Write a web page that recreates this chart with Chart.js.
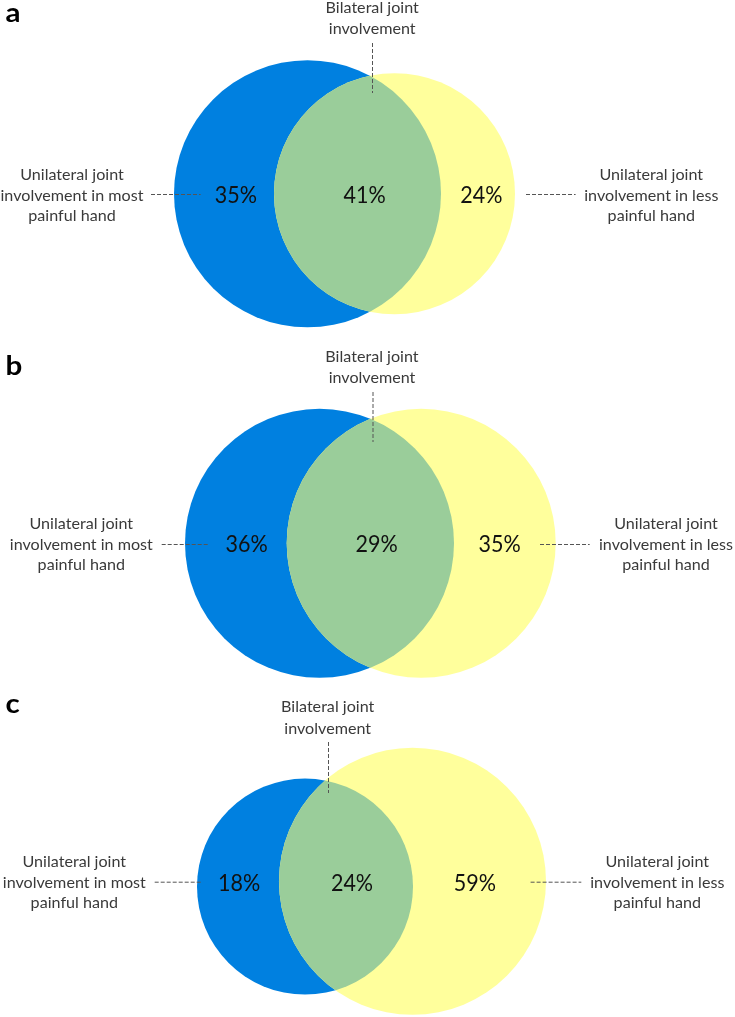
<!DOCTYPE html>
<html><head><meta charset="utf-8">
<script src="https://cdn.jsdelivr.net/npm/chart.js@4.4.0/dist/chart.umd.min.js"></script>
<style>html,body{margin:0;padding:0;background:#fff}#wrap{position:relative;width:735px;height:1017px}</style>
</head><body><div id="wrap"><canvas id="c" width="735" height="1017"></canvas></div>
<script>
// ---- data ----
const panels = ['a', 'b', 'c'];
const mostPainful = [35, 36, 18];   // unilateral, most painful hand (%)
const bilateral   = [41, 29, 24];   // bilateral (%)
const lessPainful = [24, 35, 59];   // unilateral, less painful hand (%)
// Venn circles (data units): centre and radius of each set
const mostX = [3.075, 3.195, 3.050];
const mostY = [1.938, 5.433, 8.866];
const mostR = [1.335, 1.345, 1.080];
const lessX = [3.945, 4.212, 4.125];
const lessY = [1.937, 5.433, 8.813];
const lessR = [1.205, 1.345, 1.335];
const topLabel   = ['Bilateral joint', 'involvement'];
const leftLabel  = ['Unilateral joint', 'involvement in most', 'painful hand'];
const rightLabel = ['Unilateral joint', 'involvement in less', 'painful hand'];

// ---- layout (pixels, relative to each panel top) ----
const panelTop = [0, 340, 680];
const layout = [
  {letterY: 21.7, topX: 372.2, topY: 13, vX: 372, vY0: 43, vY1: 93, leftX: 72, labY: 180, lDash: [151, 200.6], rDash: [526, 575.6], dashY: 194, pctY: 202.7, pctX: [235.8, 364.7, 481.4], rightX: 651.3},
  {letterY: 35, topX: 372, topY: 21.7, vX: 372.5, vY0: 52, vY1: 102, leftX: 81.3, labY: 189, lDash: [161.7, 208.6], rDash: [540, 589.7], dashY: 204, pctY: 212.3, pctX: [246.6, 376.6, 499.7], rightX: 666},
  {letterY: 32.7, topX: 327.7, topY: 32.3, vX: 328, vY0: 62, vY1: 113, leftX: 74.3, labY: 187.3, lDash: [154.7, 201.6], rDash: [530.6, 581.3], dashY: 201.7, pctY: 210.7, pctX: [239.1, 352, 474.9], rightX: 657.3}
];

const BLUE = '#0080E0', YELLOW = '#FFFF9C', GREEN = '#9ACD9A';

function sText(ctx, str, cx, base, font, color, sx, align) {
  ctx.save();
  ctx.font = font; ctx.fillStyle = color;
  ctx.textAlign = align || 'center'; ctx.textBaseline = 'alphabetic';
  ctx.translate(cx, base); ctx.scale(sx, 1);
  ctx.fillText(str, 0, 0);
  ctx.restore();
}
function fitScale(ctx, font, str, target) {
  ctx.save(); ctx.font = font; const w = ctx.measureText(str).width; ctx.restore();
  return target / w;
}
function dash(ctx, x0, y0, x1, y1) {
  ctx.save();
  ctx.strokeStyle = '#555'; ctx.lineWidth = 1; ctx.setLineDash([4, 2]);
  ctx.beginPath(); ctx.moveTo(x0, y0); ctx.lineTo(x1, y1); ctx.stroke();
  ctx.restore();
}

const vennPlugin = {
  id: 'venn',
  afterDatasetsDraw(chart) {
    const ctx = chart.ctx, xs = chart.scales.x, ys = chart.scales.y;
    const mMost = chart.getDatasetMeta(0), mLess = chart.getDatasetMeta(1);
    const ell = (el, r) => ({
      cx: el.x, cy: el.y,
      rx: Math.abs(xs.getPixelForValue(r) - xs.getPixelForValue(0)),
      ry: Math.abs(ys.getPixelForValue(r) - ys.getPixelForValue(0))
    });
    const path = e => { ctx.beginPath(); ctx.ellipse(e.cx, e.cy, e.rx, e.ry, 0, 0, Math.PI * 2); };
    for (let i = 0; i < panels.length; i++) {
      const a = ell(mMost.data[i], mostR[i]);
      const b = ell(mLess.data[i], lessR[i]);
      ctx.save();
      path(a); ctx.fillStyle = BLUE; ctx.fill();
      path(b); ctx.fillStyle = YELLOW; ctx.fill();
      path(a); ctx.clip();
      path(b); ctx.fillStyle = GREEN; ctx.fill();
      ctx.restore();
    }
  },
  afterDraw(chart) {
    const ctx = chart.ctx;
    const labFont = '16px Lato', pctFont = '23px Lato', letFont = 'bold 27px Lato';
    const sxLab = fitScale(ctx, labFont, 'involvement in most', 143);
    const sxPct = fitScale(ctx, pctFont, '35%', 42.2);
    const sxLet = fitScale(ctx, letFont, 'a', 15);
    const LAB = '#3a3a3a', PCT = '#111';
    for (let i = 0; i < panels.length; i++) {
      const L = layout[i], T = panelTop[i];
      sText(ctx, panels[i], 5.5, T + L.letterY, letFont, '#000', sxLet, 'left');
      topLabel.forEach((s, k) => sText(ctx, s, L.topX, T + L.topY + k * 21.3, labFont, LAB, sxLab));
      dash(ctx, L.vX + 0.5, T + L.vY0, L.vX + 0.5, T + L.vY1);
      leftLabel.forEach((s, k) => sText(ctx, s, L.leftX, T + L.labY + k * 20.5, labFont, LAB, sxLab));
      rightLabel.forEach((s, k) => sText(ctx, s, L.rightX, T + L.labY + k * 20.5, labFont, LAB, sxLab));
      dash(ctx, L.lDash[0], T + L.dashY + 0.5, L.lDash[1], T + L.dashY + 0.5);
      dash(ctx, L.rDash[0], T + L.dashY + 0.5, L.rDash[1], T + L.dashY + 0.5);
      const vals = [mostPainful[i], bilateral[i], lessPainful[i]];
      vals.forEach((v, k) => sText(ctx, v + '%', L.pctX[k], T + L.pctY, pctFont, PCT, sxPct));
    }
  }
};

new Chart(document.getElementById('c'), {
  type: 'bubble',
  data: {
    datasets: [
      { label: 'Most painful hand', data: panels.map((p, i) => ({x: mostX[i], y: mostY[i], r: mostR[i]})),
        backgroundColor: 'rgba(0,0,0,0)', borderWidth: 0 },
      { label: 'Less painful hand', data: panels.map((p, i) => ({x: lessX[i], y: lessY[i], r: lessR[i]})),
        backgroundColor: 'rgba(0,0,0,0)', borderWidth: 0 }
    ]
  },
  options: {
    responsive: false, animation: false, devicePixelRatio: 1,
    layout: { padding: 0, autoPadding: false },
    plugins: { legend: { display: false }, tooltip: { enabled: false } },
    events: [],
    scales: {
      x: { type: 'linear', min: 0, max: 7.35, display: false },
      y: { type: 'linear', min: 0, max: 10.17, reverse: true, display: false }
    }
  },
  plugins: [vennPlugin]
});
</script>
</body></html>
